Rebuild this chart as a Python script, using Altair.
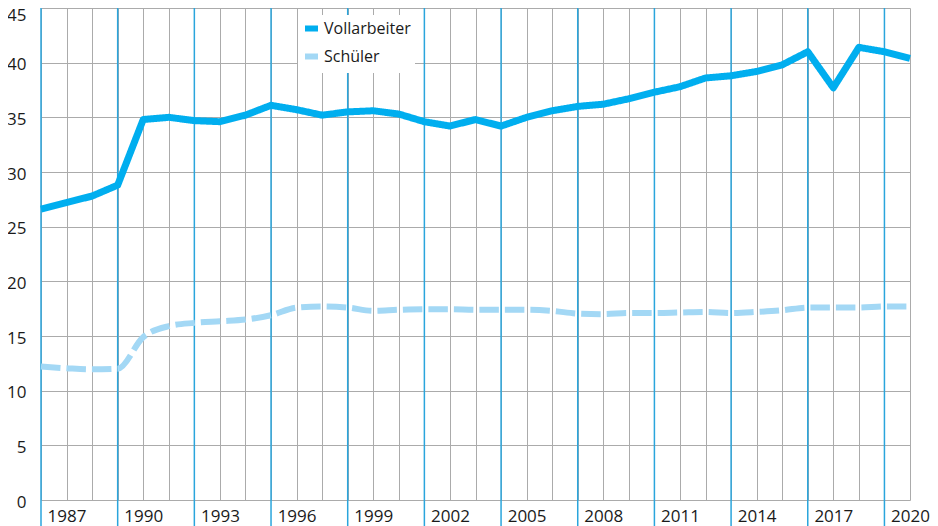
import altair as alt
import pandas as pd

years = list(range(1986, 2021))
vollarbeiter = [26.6, 27.2, 27.8, 28.8, 34.8, 35.0, 34.7, 34.6, 35.2, 36.1,
                35.7, 35.2, 35.5, 35.6, 35.3, 34.6, 34.2, 34.8, 34.2, 35.0,
                35.6, 36.0, 36.2, 36.7, 37.3, 37.8, 38.6, 38.8, 39.2, 39.8,
                41.0, 37.7, 41.4, 41.0, 40.4]
schueler = [12.2, 12.05, 11.95, 12.0, 14.9, 15.9, 16.2, 16.35, 16.5, 16.9,
            17.6, 17.7, 17.6, 17.3, 17.4, 17.45, 17.45, 17.4, 17.4, 17.4,
            17.3, 17.05, 17.0, 17.1, 17.1, 17.15, 17.2, 17.1, 17.2, 17.35,
            17.6, 17.6, 17.6, 17.7, 17.7]
blue_years = [1986, 1989, 1992, 1995, 1998, 2001, 2004, 2007, 2010, 2013, 2016, 2019]
y_ticks = [0, 5, 10, 15, 20, 25, 30, 35, 40, 45]
series = ["Vollarbeiter", "Schüler"]

FONT = "Open Sans"
C_V = "#00aeef"
C_S = "#a3d8f5"
C_BLUE = "#2aa5dc"
C_GRAY = "#ababab"

df_v = pd.DataFrame({"Jahr": years, "Wert": vollarbeiter, "Gruppe": series[0]})
df_s = pd.DataFrame({"Jahr": years, "Wert": schueler, "Gruppe": series[1]})
df_b = pd.DataFrame({"Jahr": blue_years})

x_scale = alt.Scale(domain=[1986, 2020], nice=False, zero=False)
y_scale = alt.Scale(domain=[0, 45], nice=False)

x_axis = alt.Axis(
    values=years, format="d",
    labelExpr="(datum.value - 1987) % 3 == 0 ? datum.label : ''",
    grid=True, gridColor=C_GRAY, gridWidth=1, ticks=False, domain=False,
    labelFont=FONT, labelFontSize=17, labelColor="#1a1a1a", labelPadding=8,
    labelFlush=False, labelOverlap=False, title=None,
)
y_axis = alt.Axis(
    values=y_ticks, grid=True, gridColor=C_GRAY, gridWidth=1, ticks=False,
    domain=False, labelFont=FONT, labelFontSize=17, labelColor="#1a1a1a",
    labelPadding=15, minExtent=33, maxExtent=33, title=None,
    labelOffset={"condition": {"test": "datum.value == 45", "value": 7}, "value": 2},
)

legend = alt.Legend(
    title=None, orient="none", legendX=257, legendY=7,
    fillColor="white", padding=4, symbolType="stroke",
    symbolSize=169, symbolStrokeWidth=6, labelFont=FONT,
    labelFontSize=16, labelColor="#1a1a1a", labelOffset=3,
    rowPadding=3)

color = alt.Color("Gruppe:N", scale=alt.Scale(domain=series, range=[C_V, C_S]), legend=legend)
dash = alt.StrokeDash("Gruppe:N", scale=alt.Scale(domain=series, range=[[1, 0], [19.5, 6]]),
                      legend=legend)

rules = alt.Chart(df_b).mark_rule(color=C_BLUE, strokeWidth=1.5).encode(
    x=alt.X("Jahr:Q", scale=x_scale, axis=x_axis),
    y=alt.value(0), y2=alt.value(518),
)

line_s = alt.Chart(df_s).mark_line(strokeWidth=6, interpolate="monotone", strokeCap="butt").encode(
    x=alt.X("Jahr:Q", scale=x_scale, axis=x_axis),
    y=alt.Y("Wert:Q", scale=y_scale, axis=y_axis),
    color=color, strokeDash=dash,
)
line_v = alt.Chart(df_v).mark_line(strokeWidth=7, strokeJoin="round", strokeCap="butt").encode(
    x=alt.X("Jahr:Q", scale=x_scale, axis=x_axis),
    y=alt.Y("Wert:Q", scale=y_scale, axis=y_axis),
    color=color, strokeDash=dash,
)

chart = alt.layer(rules, line_s, line_v).properties(
    width=869, height=492,
    autosize=alt.AutoSizeParams(type="none"),
    padding={"left": 33, "top": 0, "right": 20, "bottom": 26},
    background="white",
).configure_view(stroke=None)

chart.save("out.html", embed_options={"renderer": "svg", "actions": False})
